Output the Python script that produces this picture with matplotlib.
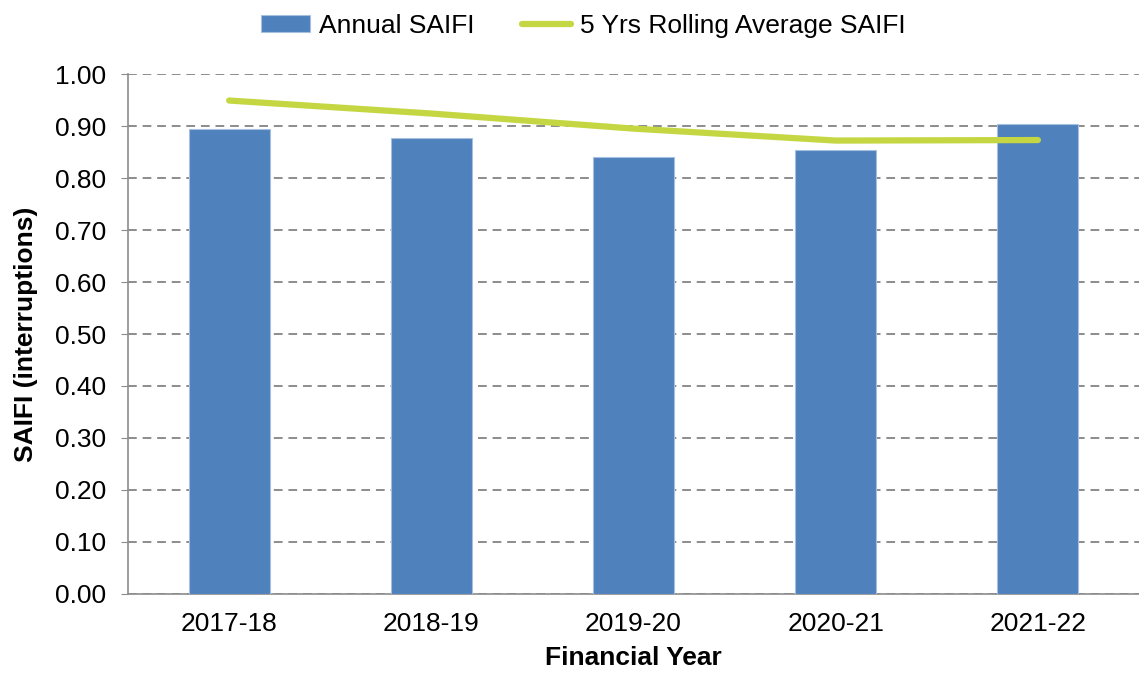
import matplotlib.pyplot as plt
import numpy as np

# DATA
years = ['2017-18', '2018-19', '2019-20', '2020-21', '2021-22']
annual_saifi = [0.894, 0.876, 0.840, 0.853, 0.903]
rolling_avg = [0.949, 0.924, 0.895, 0.872, 0.873]
yticks = [0.0, 0.1, 0.2, 0.3, 0.4, 0.5, 0.6, 0.7, 0.8, 0.9, 1.0]

BAR_COLOR = '#4F81BD'
LINE_COLOR = '#C4D743'
GRID_COLOR = '#8C8C8C'

plt.rcParams['font.family'] = ['Liberation Sans', 'DejaVu Sans']
FS = 19

fig = plt.figure(figsize=(11.39, 6.79), dpi=100)
ax = fig.add_axes([0.1124, 0.1252, 0.8876, 0.7658])

x = np.arange(len(years))
bars = ax.bar(x, annual_saifi, width=0.4, color=BAR_COLOR, edgecolor='#A7C0E0',
              linewidth=0.8, label='Annual SAIFI', zorder=3)
line, = ax.plot(x, rolling_avg, color=LINE_COLOR, linewidth=4.5, solid_capstyle='round',
                label='5 Yrs Rolling Average SAIFI', zorder=4)

ax.set_xlim(-0.5, len(years) - 0.5)
ax.set_ylim(0, 1.0)
ax.set_yticks(yticks)
ax.set_yticklabels([f"{v:.2f}" for v in yticks], fontsize=FS)
ax.set_xticks(x)
ax.set_xticklabels(years, fontsize=FS)
ax.tick_params(axis='x', length=0, pad=13)
ax.tick_params(axis='y', length=5, color=GRID_COLOR, pad=11)

ax.yaxis.grid(True, color=GRID_COLOR, linewidth=1.4, dashes=(4.5, 3), zorder=0)
ax.set_axisbelow(True)
for s in ['top', 'right']:
    ax.spines[s].set_visible(False)
for s in ['left', 'bottom']:
    ax.spines[s].set_color('#8C8C8C')
    ax.spines[s].set_linewidth(1.2)

ax.set_xlabel('Financial Year', fontsize=FS, fontweight='bold', labelpad=7)
ax.set_ylabel('SAIFI (interruptions)', fontsize=FS, fontweight='bold', labelpad=12)

fig.legend([bars, line], ['Annual SAIFI', '5 Yrs Rolling Average SAIFI'],
           loc='upper center', bbox_to_anchor=(0.512, 1.015), ncol=2, frameon=False,
           fontsize=FS, handlelength=1.85, handleheight=0.6, handletextpad=0.35,
           columnspacing=1.8)

plt.savefig('out.png', dpi=100)
plt.close()
